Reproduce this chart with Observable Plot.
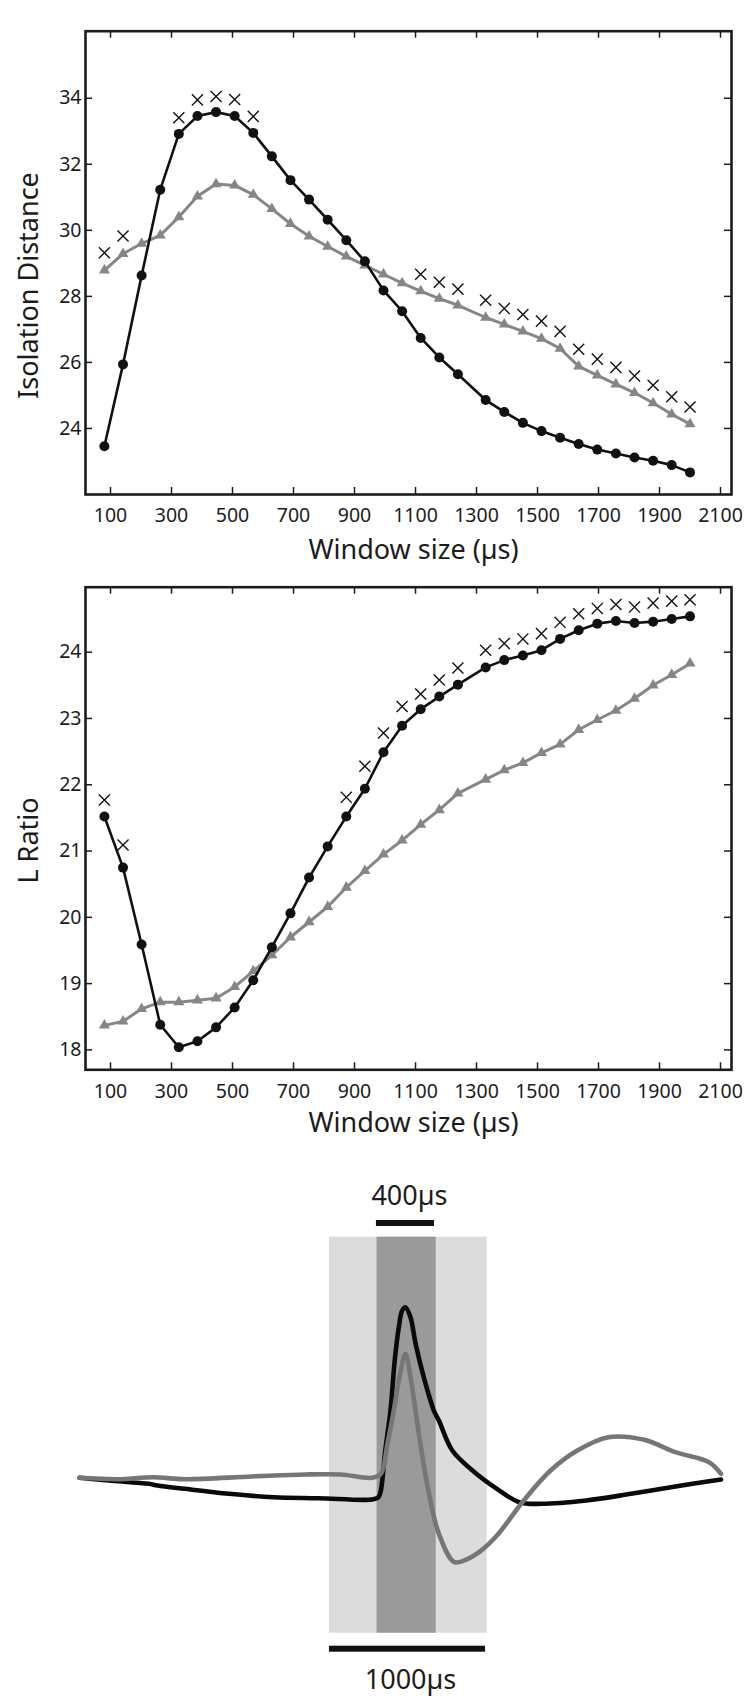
<!DOCTYPE html>
<html>
<head>
<meta charset="utf-8">
<script src="https://cdn.jsdelivr.net/npm/d3@7"></script>
<script src="https://cdn.jsdelivr.net/npm/@observablehq/plot@0.6"></script>
<style>
  html, body { margin: 0; padding: 0; background: #ffffff; }
  #root { width: 750px; height: 1703px; position: relative; overflow: hidden; background: #ffffff; }
  #root svg { display: block; }
</style>
</head>
<body>
<div id="root"></div>
<script>
// ---------- data ----------
const windowSize = [80,141,202,263,324,385,446,507,568,629,690,751,812,873,934,995,1056,1117,1178,1239,1330,1391,1452,1513,1574,1635,1696,1757,1818,1879,1940,2000];

const isoBlack = [23.46,25.94,28.63,31.23,32.92,33.46,33.58,33.46,32.95,32.24,31.52,30.93,30.32,29.70,29.06,28.18,27.55,26.74,26.15,25.64,24.86,24.50,24.17,23.92,23.72,23.53,23.36,23.24,23.12,23.02,22.89,22.67];
const isoGray  = [28.79,29.29,29.60,29.85,30.40,31.03,31.40,31.36,31.08,30.65,30.20,29.82,29.51,29.21,28.94,28.67,28.40,28.16,27.93,27.73,27.36,27.15,26.94,26.72,26.42,25.88,25.61,25.34,25.08,24.77,24.43,24.13];
const isoCross = [29.32,29.83,null,null,33.41,33.95,34.05,33.96,33.45,null,null,null,null,null,null,null,null,28.67,28.43,28.22,27.88,27.63,27.45,27.25,26.94,26.40,26.10,25.85,25.59,25.31,24.96,24.65];

const lrBlack = [21.52,20.75,19.59,18.38,18.04,18.13,18.34,18.64,19.05,19.55,20.06,20.60,21.07,21.52,21.94,22.49,22.89,23.14,23.33,23.51,23.77,23.88,23.95,24.03,24.20,24.33,24.43,24.47,24.44,24.46,24.50,24.54];
const lrGray  = [18.37,18.43,18.62,18.72,18.72,18.75,18.78,18.95,19.19,19.43,19.70,19.93,20.16,20.45,20.70,20.95,21.16,21.40,21.62,21.87,22.08,22.22,22.33,22.48,22.61,22.83,22.98,23.12,23.30,23.50,23.66,23.83];
const lrCross = [21.77,21.09,null,null,null,null,null,null,null,null,null,null,null,21.81,22.28,22.78,23.18,23.37,23.58,23.76,24.03,24.13,24.20,24.28,24.45,24.58,24.66,24.72,24.68,24.74,24.77,24.79];

const xTicks = [100,300,500,700,900,1100,1300,1500,1700,1900,2100];
const isoTicks = [24,26,28,30,32,34];
const lrTicks = [18,19,20,21,22,23,24];

// waveform (time in µs, amplitude in arbitrary units)
const blackTime = [0,184,439,495,666,949,1230,1516,1854,1896,1911,1939,1972,1999,2025,2046,2067,2099,2131,2183,2247,2279,2364,2505,2647,2789,2930,3213,3497,3779,4068];
const blackAmp  = [-0.3,-3,-6.3,-8,-11.3,-16.3,-19.7,-20.7,-22,-19.7,-13,27,67,117,150.3,167,170.3,160.3,134,100.3,67,57,27,5.3,-11.3,-24.7,-26.3,-23,-16.3,-9,-2];
const grayTime  = [0,241,467,666,1091,1430,1655,1854,1911,1953,1993,2029,2067,2099,2131,2152,2208,2279,2378,2463,2534,2647,2817,2987,3157,3354,3581,3779,3992,4068];
const grayAmp   = [-0.3,-1.7,0.3,-1.7,1,3,3,-0.3,3.7,33.7,67,100.3,123.7,100.3,67,43.7,-9.7,-56.3,-84.7,-81.3,-74.7,-58,-23,7,27,40.3,37.7,25.3,15.3,3.7];

const wideWindow = [1585, 2585];     // 1000 µs window
const narrowWindow = [1887, 2262];   // 400 µs window
const bar400 = [1883, 2251];
const bar1000 = [1585, 2575];
const label400 = "400µs";
const label1000 = "1000µs";

// ---------- styles ----------
const FONT = "'Noto Sans', 'Open Sans', 'DejaVu Sans', sans-serif";
const INK = "#1c1c1c";
const BLACK = "#111111";
const GRAY = "#868686";

const isoData = windowSize.map((w, i) => ({w, black: isoBlack[i], gray: isoGray[i], cross: isoCross[i]}));
const lrData = windowSize.map((w, i) => ({w, black: lrBlack[i], gray: lrGray[i], cross: lrCross[i]}));

function windowChart({data, yDomain, yTicks, height, marginTop, marginBottom, tickPad, yTitle, yTitleDy, xTitleDy}) {
  const width = 750, marginLeft = 85, marginRight = 19;
  const innerW = width - marginLeft - marginRight;
  const innerH = height - marginTop - marginBottom;
  const T = 7;
  return Plot.plot({
    width, height, marginLeft, marginRight, marginTop, marginBottom,
    x: {domain: [18, 2136], label: null},
    y: {domain: yDomain, label: null},
    style: {fontFamily: FONT, fontSize: "19.5px", color: INK, background: "#ffffff", overflow: "visible"},
    marks: [
      Plot.axisX({ticks: xTicks, tickSize: 0, tickPadding: tickPad, tickFormat: d => String(d), label: null}),
      Plot.axisY({ticks: yTicks, tickSize: 0, tickPadding: 4, tickFormat: d => String(d), label: null}),
      Plot.tickX(xTicks, {x: d => d, insetTop: innerH - T, stroke: INK, strokeWidth: 1.5}),
      Plot.tickX(xTicks, {x: d => d, insetBottom: innerH - T, stroke: INK, strokeWidth: 1.5}),
      Plot.tickY(yTicks, {y: d => d, insetRight: innerW - T, stroke: INK, strokeWidth: 1.5}),
      Plot.tickY(yTicks, {y: d => d, insetLeft: innerW - T, stroke: INK, strokeWidth: 1.5}),
      Plot.line(data, {x: "w", y: "gray", stroke: GRAY, strokeWidth: 3}),
      Plot.dot(data, {x: "w", y: "gray", symbol: "triangle", r: 4.1, fill: GRAY}),
      Plot.line(data, {x: "w", y: "black", stroke: BLACK, strokeWidth: 2.6}),
      Plot.dot(data, {x: "w", y: "black", r: 5, fill: BLACK}),
      Plot.dot(data.filter(d => d.cross != null), {x: "w", y: "cross", symbol: "times", r: 5.1, stroke: BLACK, strokeWidth: 1.4}),
      Plot.frame({stroke: INK, strokeWidth: 2.6}),
      Plot.text(["Window size (µs)"], {text: d => d, frameAnchor: "bottom", lineAnchor: "bottom", textAnchor: "middle", dx: 5, dy: xTitleDy, fontSize: 27, fill: INK}),
      Plot.text([yTitle], {text: d => d, frameAnchor: "left", rotate: -90, lineAnchor: "bottom", textAnchor: "middle", dx: -47.5, dy: yTitleDy, fontSize: 27, fill: INK})
    ]
  });
}

const root = document.getElementById("root");

root.appendChild(windowChart({
  data: isoData, yDomain: [22, 36.03], yTicks: isoTicks,
  height: 570, marginTop: 30.7, marginBottom: 76, tickPad: 13.5,
  yTitle: "Isolation Distance", yTitleDy: 22.65, xTitleDy: 64
}));

root.appendChild(windowChart({
  data: lrData, yDomain: [17.7, 24.98], yTicks: lrTicks,
  height: 580, marginTop: 16.7, marginBottom: 80.7, tickPad: 14.2,
  yTitle: "L Ratio", yTitleDy: 12, xTitleDy: 61.7
}));

const blackWave = blackTime.map((t, i) => ({t, a: blackAmp[i]}));
const grayWave = grayTime.map((t, i) => ({t, a: grayAmp[i]}));

root.appendChild(Plot.plot({
  width: 750, height: 553,
  marginLeft: 79, marginRight: 29.5, marginTop: 86.7, marginBottom: 70.3,
  x: {domain: [0, 4068], axis: null},
  y: {domain: [-155.7, 240.3], axis: null},
  style: {fontFamily: FONT, color: INK, background: "#ffffff", overflow: "visible"},
  marks: [
    Plot.rect([wideWindow], {x1: d => d[0], x2: d => d[1], fill: "#dcdcdc"}),
    Plot.rect([narrowWindow], {x1: d => d[0], x2: d => d[1], fill: "#9a9a9a"}),
    Plot.rect([bar400], {x1: d => d[0], x2: d => d[1], fill: BLACK, insetTop: -16.7, insetBottom: 406.7}),
    Plot.rect([bar1000], {x1: d => d[0], x2: d => d[1], fill: BLACK, insetTop: 409, insetBottom: -19}),
    Plot.text([label400], {text: d => d, x: () => (bar400[0] + bar400[1]) / 2, frameAnchor: "top", lineAnchor: "bottom", textAnchor: "middle", dx: 4, dy: -32.7, fontSize: 27, fill: INK}),
    Plot.text([label1000], {text: d => d, x: () => (bar1000[0] + bar1000[1]) / 2, frameAnchor: "bottom", lineAnchor: "bottom", textAnchor: "middle", dx: 3, dy: 55.3, fontSize: 27, fill: INK}),
    Plot.line(blackWave, {x: "t", y: "a", stroke: "#0a0a0a", strokeWidth: 4.6, curve: "catmull-rom"}),
    Plot.line(grayWave, {x: "t", y: "a", stroke: "#767676", strokeWidth: 4.6, curve: "catmull-rom"})
  ]
}));
</script>
</body>
</html>
